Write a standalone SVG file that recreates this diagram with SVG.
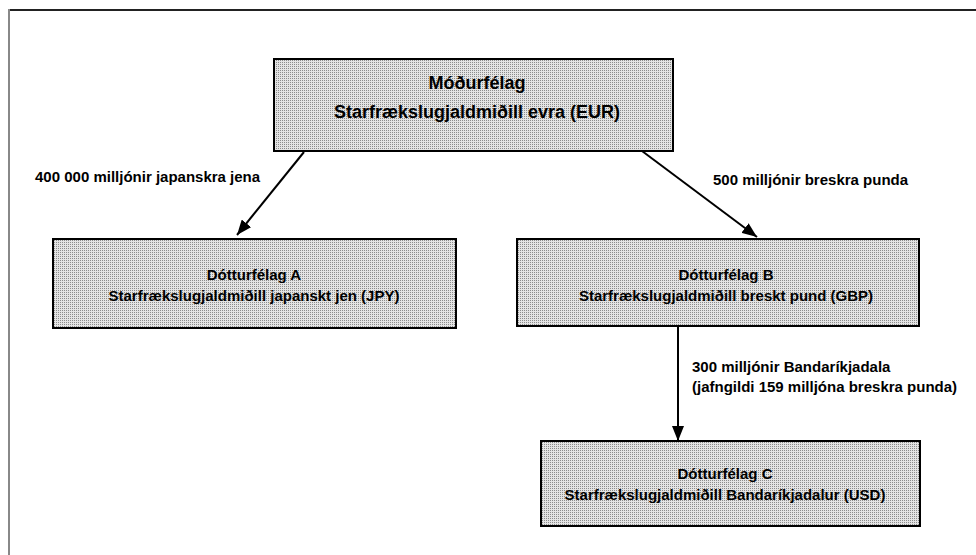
<svg xmlns="http://www.w3.org/2000/svg" width="976" height="555" viewBox="0 0 976 555">
<style>
  .box { fill: url(#stip); stroke: #000; stroke-width: 2; }
  .t { font-family: "Liberation Sans", Arial, sans-serif; font-weight: bold; fill: #000; }
  .big { font-size: 18px; text-anchor: middle; }
  .mid { font-size: 15px; text-anchor: middle; }
  .lbl { font-size: 15px; }
  .conn { stroke: #000; stroke-width: 2; fill: none; marker-end: url(#ah); }
</style>
<defs>
  <pattern id="stip" width="2" height="2" patternUnits="userSpaceOnUse">
    <rect width="2" height="2" fill="#e4e4e4"/>
    <rect width="1" height="1" fill="#8c8c8c"/>
  </pattern>
  <marker id="ah" markerUnits="userSpaceOnUse" markerWidth="16" markerHeight="12" refX="15" refY="6" orient="auto">
    <path d="M0,0 L15,6 L0,12 Z" fill="#000"/>
  </marker>
</defs>
<rect width="976" height="555" fill="#fff"/>
<line x1="8" y1="10" x2="976" y2="10" stroke="#222" stroke-width="2"/>
<line x1="9" y1="9" x2="9" y2="555" stroke="#888" stroke-width="2"/>

<g id="connectors">
  <line class="conn" x1="304" y1="152" x2="237" y2="235"/>
  <line class="conn" x1="642" y1="151" x2="757" y2="237"/>
  <line class="conn" x1="678" y1="327" x2="678" y2="441"/>
  <text class="t lbl" x="35" y="182">400 000 milljónir japanskra jena</text>
  <text class="t lbl" x="713" y="185">500 milljónir breskra punda</text>
  <text class="t lbl" x="692" y="372">300 milljónir Bandaríkjadala</text>
  <text class="t lbl" x="692" y="392">(jafngildi 159 milljóna breskra punda)</text>
</g>

<g id="parent">
  <rect class="box" x="274" y="59" width="399" height="92"/>
  <text class="t big" x="477" y="89">Móðurfélag</text>
  <text class="t big" x="477" y="118">Starfrækslugjaldmiðill evra (EUR)</text>
</g>

<g id="subA">
  <rect class="box" x="53" y="239" width="403" height="89"/>
  <text class="t mid" x="254" y="280">Dótturfélag A</text>
  <text class="t mid" x="254" y="301">Starfrækslugjaldmiðill japanskt jen (JPY)</text>
</g>

<g id="subB">
  <rect class="box" x="517" y="239" width="402" height="87"/>
  <text class="t mid" x="726" y="280">Dótturfélag B</text>
  <text class="t mid" x="726" y="301">Starfrækslugjaldmiðill breskt pund (GBP)</text>
</g>

<g id="subC">
  <rect class="box" x="541" y="441" width="379" height="85"/>
  <text class="t mid" x="725" y="479">Dótturfélag C</text>
  <text class="t mid" x="725" y="500">Starfrækslugjaldmiðill Bandaríkjadalur (USD)</text>
</g>
</svg>
